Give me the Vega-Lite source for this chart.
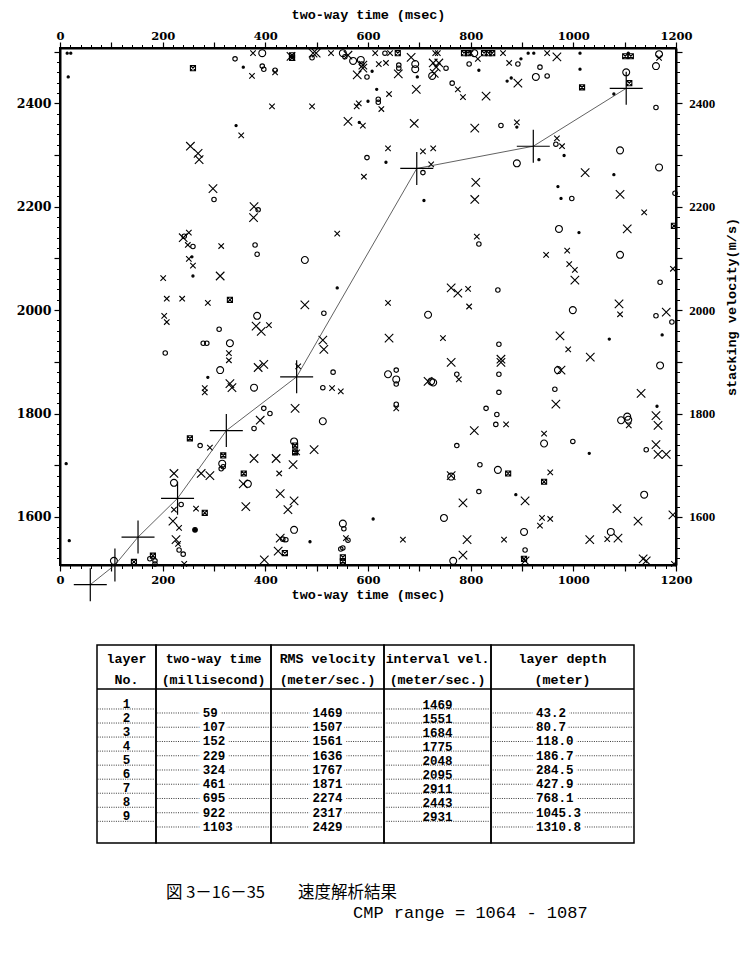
{
"$schema": "https://vega.github.io/schema/vega-lite/v6.json",
"background": "white",
"padding": {"left": 15, "top": 6, "right": 4, "bottom": 4},
"config": {"font": "Liberation Mono", "axis": {"domainColor": "black", "tickColor": "black", "labelColor": "black", "titleColor": "black", "grid": false}, "view": {"stroke": "black", "strokeWidth": 1.5}},
"datasets": {
"tbl": [
{"layer":1,"twt":59,"rms":1469,"int":1469,"depth":43.2},
{"layer":2,"twt":107,"rms":1507,"int":1551,"depth":80.7},
{"layer":3,"twt":152,"rms":1561,"int":1684,"depth":118.0},
{"layer":4,"twt":229,"rms":1636,"int":1775,"depth":186.7},
{"layer":5,"twt":324,"rms":1767,"int":2048,"depth":284.5},
{"layer":6,"twt":461,"rms":1871,"int":2095,"depth":427.9},
{"layer":7,"twt":695,"rms":2274,"int":2911,"depth":768.1},
{"layer":8,"twt":922,"rms":2317,"int":2443,"depth":1045.3},
{"layer":9,"twt":1103,"rms":2429,"int":2931,"depth":1310.8}
],
"pts": [
{"t":14,"v":2497,"s":"d"},{"t":21,"v":2497,"s":"d"},{"t":16,"v":2451,"s":"d"},{"t":12,"v":1703,"s":"d"},{"t":18,"v":1554,"s":"d"},
{"t":259,"v":2468,"s":"b"},{"t":341,"v":2486,"s":"o"},{"t":357,"v":2470,"s":"d"},{"t":376,"v":2497,"s":"x"},{"t":394,"v":2497,"s":"O"},{"t":374,"v":2453,"s":"x"},{"t":394,"v":2472,"s":"o"},{"t":397,"v":2466,"s":"o"},{"t":419,"v":2464,"s":"o"},{"t":419,"v":2460,"s":"x"},{"t":452,"v":2493,"s":"b"},{"t":452,"v":2488,"s":"b"},{"t":450,"v":2491,"s":"X"},{"t":499,"v":2497,"s":"X"},{"t":493,"v":2497,"s":"X"},{"t":491,"v":2488,"s":"o"},{"t":528,"v":2497,"s":"x"},{"t":551,"v":2497,"s":"O"},{"t":561,"v":2493,"s":"X"},{"t":555,"v":2490,"s":"o"},{"t":571,"v":2482,"s":"O"},{"t":586,"v":2484,"s":"O"},{"t":590,"v":2474,"s":"X"},{"t":588,"v":2476,"s":"o"},{"t":590,"v":2468,"s":"X"},{"t":579,"v":2455,"s":"X"},{"t":598,"v":2451,"s":"o"},{"t":608,"v":2462,"s":"d"},
{"t":614,"v":2497,"s":"x"},{"t":633,"v":2497,"s":"o"},{"t":643,"v":2497,"s":"x"},{"t":658,"v":2497,"s":"b"},{"t":684,"v":2489,"s":"X"},{"t":731,"v":2497,"s":"x"},{"t":621,"v":2476,"s":"x"},{"t":635,"v":2478,"s":"x"},
{"t":660,"v":2474,"s":"o"},{"t":660,"v":2468,"s":"o"},{"t":659,"v":2457,"s":"X"},{"t":692,"v":2476,"s":"O"},{"t":692,"v":2466,"s":"O"},{"t":696,"v":2451,"s":"d"},
{"t":727,"v":2478,"s":"X"},{"t":733,"v":2470,"s":"X"},{"t":738,"v":2478,"s":"X"},{"t":729,"v":2458,"s":"X"},{"t":725,"v":2453,"s":"O"},{"t":752,"v":2468,"s":"o"},{"t":736,"v":2497,"s":"x"},
{"t":797,"v":2476,"s":"o"},{"t":764,"v":2439,"s":"o"},{"t":775,"v":2427,"s":"x"},{"t":785,"v":2412,"s":"x"},
{"t":787,"v":2497,"s":"b"},{"t":795,"v":2497,"s":"b"},{"t":800,"v":2497,"s":"x"},{"t":807,"v":2497,"s":"O"},{"t":814,"v":2486,"s":"x"},{"t":826,"v":2497,"s":"b"},{"t":835,"v":2497,"s":"b"},{"t":842,"v":2497,"s":"b"},{"t":863,"v":2497,"s":"x"},
{"t":816,"v":2464,"s":"d"},{"t":875,"v":2478,"s":"x"},{"t":892,"v":2476,"s":"o"},{"t":898,"v":2486,"s":"d"},{"t":912,"v":2497,"s":"d"},{"t":923,"v":2497,"s":"d"},{"t":949,"v":2497,"s":"x"},{"t":968,"v":2490,"s":"X"},{"t":935,"v":2470,"s":"o"},
{"t":871,"v":2443,"s":"d"},{"t":879,"v":2449,"s":"d"},{"t":892,"v":2439,"s":"X"},{"t":927,"v":2451,"s":"O"},{"t":949,"v":2453,"s":"o"},
{"t":830,"v":2414,"s":"X"},{"t":808,"v":2352,"s":"X"},{"t":859,"v":2357,"s":"o"},{"t":890,"v":2363,"s":"x"},{"t":890,"v":2354,"s":"d"},
{"t":1013,"v":2497,"s":"d"},{"t":1013,"v":2466,"s":"d"},{"t":1017,"v":2431,"s":"b"},
{"t":1101,"v":2491,"s":"b"},{"t":1112,"v":2491,"s":"b"},{"t":1107,"v":2497,"s":"d"},{"t":1103,"v":2460,"s":"O"},{"t":1109,"v":2439,"s":"b"},{"t":1079,"v":2418,"s":"d"},
{"t":1167,"v":2495,"s":"O"},{"t":1167,"v":2488,"s":"x"},{"t":1161,"v":2472,"s":"O"},{"t":1161,"v":2392,"s":"o"},
{"t":694,"v":2427,"s":"X"},{"t":690,"v":2361,"s":"X"},
{"t":617,"v":2427,"s":"d"},{"t":641,"v":2418,"s":"x"},{"t":582,"v":2400,"s":"x"},{"t":578,"v":2394,"s":"x"},{"t":600,"v":2404,"s":"d"},{"t":620,"v":2408,"s":"o"},{"t":620,"v":2402,"s":"o"},{"t":626,"v":2389,"s":"x"},
{"t":413,"v":2394,"s":"x"},{"t":491,"v":2394,"s":"x"},{"t":561,"v":2365,"s":"X"},{"t":583,"v":2363,"s":"d"},{"t":590,"v":2357,"s":"x"},{"t":343,"v":2357,"s":"d"},{"t":353,"v":2338,"s":"x"},
{"t":598,"v":2295,"s":"o"},{"t":592,"v":2258,"s":"x"},
{"t":639,"v":2313,"s":"x"},{"t":635,"v":2286,"s":"d"},{"t":707,"v":2307,"s":"x"},{"t":727,"v":2313,"s":"x"},{"t":723,"v":2282,"s":"x"},{"t":707,"v":2266,"s":"o"},
{"t":890,"v":2284,"s":"O"},{"t":933,"v":2291,"s":"d"},{"t":968,"v":2332,"s":"x"},{"t":978,"v":2317,"s":"x"},{"t":966,"v":2321,"s":"o"},{"t":982,"v":2299,"s":"d"},
{"t":1091,"v":2309,"s":"O"},{"t":1023,"v":2266,"s":"X"},{"t":1079,"v":2262,"s":"d"},{"t":1167,"v":2276,"s":"O"},
{"t":810,"v":2247,"s":"X"},{"t":808,"v":2214,"s":"X"},{"t":709,"v":2212,"s":"d"},{"t":970,"v":2239,"s":"d"},{"t":976,"v":2216,"s":"d"},{"t":997,"v":2216,"s":"o"},
{"t":1091,"v":2224,"s":"X"},{"t":1138,"v":2189,"s":"x"},{"t":1198,"v":2226,"s":"o"},{"t":1196,"v":2163,"s":"b"},
{"t":972,"v":2157,"s":"O"},{"t":1011,"v":2150,"s":"d"},{"t":1105,"v":2157,"s":"X"},{"t":812,"v":2142,"s":"x"},{"t":816,"v":2128,"s":"o"},{"t":1091,"v":2107,"s":"O"},{"t":947,"v":2107,"s":"x"},
{"t":988,"v":2115,"s":"x"},{"t":992,"v":2089,"s":"x"},{"t":1003,"v":2078,"s":"x"},{"t":1003,"v":2058,"s":"X"},{"t":1194,"v":2080,"s":"x"},{"t":1169,"v":2054,"s":"o"},
{"t":762,"v":2043,"s":"X"},{"t":775,"v":2033,"s":"X"},{"t":795,"v":2041,"s":"x"},{"t":853,"v":2039,"s":"o"},
{"t":254,"v":2317,"s":"X"},{"t":269,"v":2303,"s":"X"},{"t":271,"v":2291,"s":"X"},{"t":298,"v":2235,"s":"X"},{"t":300,"v":2214,"s":"o"},
{"t":378,"v":2200,"s":"X"},{"t":377,"v":2179,"s":"X"},{"t":386,"v":2194,"s":"o"},{"t":380,"v":2126,"s":"o"},{"t":384,"v":2108,"s":"o"},{"t":477,"v":2097,"s":"O"},{"t":540,"v":2148,"s":"x"},{"t":540,"v":2043,"s":"d"},
{"t":251,"v":2150,"s":"x"},{"t":240,"v":2140,"s":"X"},{"t":242,"v":2143,"s":"o"},{"t":249,"v":2126,"s":"x"},{"t":259,"v":2123,"s":"o"},{"t":314,"v":2124,"s":"x"},{"t":257,"v":2103,"s":"d"},{"t":251,"v":2099,"s":"x"},{"t":259,"v":2086,"s":"x"},{"t":259,"v":2066,"s":"d"},{"t":312,"v":2066,"s":"X"},{"t":201,"v":2062,"s":"x"},{"t":208,"v":2022,"s":"x"},{"t":238,"v":2022,"s":"x"},{"t":331,"v":2020,"s":"b"},
{"t":203,"v":1989,"s":"x"},{"t":208,"v":1977,"s":"x"},{"t":288,"v":2014,"s":"x"},{"t":384,"v":1989,"s":"O"},{"t":382,"v":1969,"s":"X"},{"t":392,"v":1959,"s":"X"},{"t":407,"v":1971,"s":"x"},{"t":477,"v":2010,"s":"X"},{"t":514,"v":1994,"s":"o"},{"t":205,"v":1917,"s":"o"},{"t":310,"v":1963,"s":"o"},{"t":279,"v":1936,"s":"o"},{"t":286,"v":1936,"s":"o"},{"t":331,"v":1936,"s":"O"},{"t":329,"v":1917,"s":"x"},{"t":329,"v":1903,"s":"x"},{"t":312,"v":1884,"s":"O"},{"t":288,"v":1870,"s":"d"},{"t":282,"v":1849,"s":"x"},{"t":282,"v":1841,"s":"x"},{"t":331,"v":1858,"s":"X"},{"t":335,"v":1850,"s":"X"},{"t":378,"v":1850,"s":"O"},{"t":386,"v":1889,"s":"X"},{"t":397,"v":1895,"s":"X"},{"t":512,"v":1942,"s":"X"},{"t":514,"v":1924,"s":"X"},{"t":532,"v":1880,"s":"o"},{"t":512,"v":1850,"s":"o"},{"t":530,"v":1849,"s":"x"},{"t":547,"v":1843,"s":"x"},{"t":458,"v":1810,"s":"X"},{"t":464,"v":1891,"s":"x"},
{"t":512,"v":1785,"s":"O"},{"t":397,"v":1810,"s":"o"},{"t":409,"v":1800,"s":"o"},{"t":390,"v":1787,"s":"X"},{"t":378,"v":1771,"s":"o"},{"t":253,"v":1752,"s":"b"},{"t":273,"v":1738,"s":"o"},{"t":292,"v":1734,"s":"x"},
{"t":456,"v":1746,"s":"O"},{"t":458,"v":1738,"s":"b"},{"t":458,"v":1725,"s":"b"},{"t":462,"v":1725,"s":"x"},{"t":495,"v":1730,"s":"X"},{"t":421,"v":1713,"s":"X"},{"t":378,"v":1713,"s":"X"},{"t":454,"v":1701,"s":"X"},
{"t":318,"v":1719,"s":"b"},{"t":316,"v":1703,"s":"O"},{"t":318,"v":1697,"s":"o"},{"t":314,"v":1693,"s":"o"},{"t":275,"v":1684,"s":"X"},{"t":292,"v":1680,"s":"X"},{"t":358,"v":1684,"s":"b"},{"t":357,"v":1664,"s":"X"},{"t":366,"v":1664,"s":"O"},{"t":427,"v":1684,"s":"x"},{"t":222,"v":1684,"s":"X"},{"t":222,"v":1666,"s":"O"},{"t":429,"v":1645,"s":"X"},{"t":362,"v":1620,"s":"X"},{"t":456,"v":1631,"s":"X"},{"t":444,"v":1614,"s":"X"},{"t":236,"v":1624,"s":"o"},{"t":265,"v":1616,"s":"x"},{"t":282,"v":1608,"s":"b"},{"t":222,"v":1614,"s":"x"},{"t":220,"v":1592,"s":"X"},{"t":232,"v":1579,"s":"x"},{"t":263,"v":1575,"s":"D"},
{"t":226,"v":1556,"s":"X"},{"t":230,"v":1548,"s":"x"},{"t":232,"v":1536,"s":"o"},{"t":240,"v":1528,"s":"o"},
{"t":429,"v":1559,"s":"X"},{"t":434,"v":1557,"s":"o"},{"t":440,"v":1556,"s":"o"},{"t":425,"v":1534,"s":"X"},{"t":438,"v":1530,"s":"b"},{"t":456,"v":1575,"s":"O"},{"t":398,"v":1517,"s":"X"},{"t":487,"v":1552,"s":"d"},
{"t":551,"v":1587,"s":"O"},{"t":553,"v":1577,"s":"o"},{"t":561,"v":1555,"s":"o"},{"t":557,"v":1559,"s":"x"},{"t":547,"v":1538,"s":"o"},{"t":551,"v":1540,"s":"o"},{"t":551,"v":1522,"s":"b"},{"t":551,"v":1514,"s":"b"},
{"t":105,"v":1515,"s":"O"},{"t":144,"v":1513,"s":"b"},{"t":181,"v":1525,"s":"b"},{"t":175,"v":1519,"s":"o"},{"t":185,"v":1515,"s":"o"},{"t":185,"v":1509,"s":"o"},{"t":242,"v":1509,"s":"x"},
{"t":610,"v":1596,"s":"d"},{"t":668,"v":1556,"s":"x"},{"t":762,"v":1678,"s":"O"},{"t":785,"v":1627,"s":"X"},{"t":748,"v":1598,"s":"O"},{"t":793,"v":1556,"s":"X"},{"t":785,"v":1526,"s":"X"},{"t":766,"v":1515,"s":"O"},
{"t":816,"v":1649,"s":"o"},{"t":888,"v":1643,"s":"d"},{"t":906,"v":1631,"s":"X"},{"t":943,"v":1668,"s":"b"},{"t":939,"v":1598,"s":"x"},{"t":955,"v":1596,"s":"x"},{"t":935,"v":1583,"s":"x"},{"t":904,"v":1571,"s":"O"},{"t":865,"v":1556,"s":"x"},{"t":906,"v":1536,"s":"o"},{"t":904,"v":1519,"s":"b"},{"t":906,"v":1515,"s":"X"},
{"t":1138,"v":1643,"s":"O"},{"t":1085,"v":1616,"s":"X"},{"t":1126,"v":1592,"s":"X"},{"t":1194,"v":1604,"s":"X"},{"t":1073,"v":1571,"s":"O"},{"t":1066,"v":1557,"s":"x"},{"t":1087,"v":1559,"s":"X"},{"t":1032,"v":1556,"s":"X"},{"t":1136,"v":1519,"s":"X"},{"t":1142,"v":1515,"s":"X"},{"t":1196,"v":1509,"s":"x"},
{"t":853,"v":1691,"s":"O"},{"t":873,"v":1684,"s":"b"},{"t":955,"v":1686,"s":"x"},
{"t":639,"v":2014,"s":"x"},{"t":641,"v":1946,"s":"X"},{"t":639,"v":1876,"s":"O"},{"t":655,"v":1884,"s":"o"},{"t":655,"v":1866,"s":"O"},{"t":655,"v":1857,"s":"o"},{"t":655,"v":1818,"s":"o"},{"t":655,"v":1810,"s":"x"},
{"t":717,"v":1991,"s":"O"},{"t":797,"v":2007,"s":"x"},{"t":746,"v":1946,"s":"x"},{"t":762,"v":1899,"s":"X"},{"t":773,"v":1876,"s":"o"},{"t":777,"v":1866,"s":"x"},{"t":717,"v":1862,"s":"X"},{"t":727,"v":1860,"s":"O"},{"t":723,"v":1862,"s":"O"},
{"t":830,"v":1810,"s":"o"},{"t":807,"v":1767,"s":"X"},{"t":773,"v":1738,"s":"o"},{"t":818,"v":1701,"s":"o"},{"t":762,"v":1680,"s":"X"},
{"t":855,"v":1934,"s":"o"},{"t":855,"v":1876,"s":"o"},{"t":855,"v":1841,"s":"o"},{"t":851,"v":1798,"s":"o"},{"t":849,"v":1779,"s":"o"},{"t":869,"v":1779,"s":"x"},{"t":859,"v":1905,"s":"X"},{"t":859,"v":1899,"s":"X"},
{"t":999,"v":2000,"s":"O"},{"t":1089,"v":2012,"s":"X"},{"t":1091,"v":1992,"s":"x"},{"t":1161,"v":1989,"s":"o"},{"t":1181,"v":1996,"s":"X"},{"t":1192,"v":1977,"s":"o"},{"t":1173,"v":1952,"s":"d"},{"t":974,"v":1950,"s":"X"},{"t":990,"v":1924,"s":"x"},{"t":1033,"v":1909,"s":"X"},{"t":1070,"v":1944,"s":"d"},{"t":1169,"v":1893,"s":"O"},{"t":970,"v":1884,"s":"O"},{"t":976,"v":1884,"s":"X"},{"t":964,"v":1847,"s":"o"},{"t":966,"v":1818,"s":"X"},{"t":1132,"v":1839,"s":"X"},{"t":1163,"v":1814,"s":"d"},{"t":1093,"v":1787,"s":"O"},{"t":1105,"v":1794,"s":"O"},{"t":1107,"v":1788,"s":"O"},{"t":1108,"v":1777,"s":"x"},{"t":1161,"v":1796,"s":"X"},{"t":1165,"v":1777,"s":"X"},{"t":943,"v":1761,"s":"x"},{"t":943,"v":1742,"s":"O"},{"t":999,"v":1746,"s":"o"},{"t":1031,"v":1723,"s":"d"},{"t":1142,"v":1730,"s":"o"},{"t":1161,"v":1740,"s":"X"},{"t":1165,"v":1721,"s":"X"},{"t":1181,"v":1721,"s":"X"}
]
},
"vconcat": [
{
"width": 616, "height": 517,
"view": {"stroke": "black", "strokeWidth": 2},
"resolve": {"axis": {"x": "independent", "y": "independent"}},
"layer": [
{"data": {"name": "pts"},
 "mark": {"type": "point", "color": "black", "strokeWidth": 1.1, "opacity": 1},
 "encoding": {
  "x": {"field": "t", "type": "quantitative", "scale": {"domain": [0, 1200], "nice": false, "zero": false},
   "axis": {"orient": "bottom", "values": [0,100,200,300,400,500,600,700,800,900,1000,1100,1200], "format": "d", "labelExpr": "datum.value % 200 === 0 ? datum.label : ''", "tickSize": 6, "tickWidth": 1.2, "domainWidth": 2, "labelFont": "DejaVu Serif", "labelFontWeight": "bold", "labelFontSize": 11.5, "labelPadding": 3.6, "labelOverlap": false, "labelFlush": false, "title": "two-way time (msec)", "titleFont": "Liberation Mono", "titleFontWeight": "bold", "titleFontSize": 13.5, "titlePadding": 1}},
  "y": {"field": "v", "type": "quantitative", "scale": {"domain": [1507, 2507], "nice": false, "zero": false},
   "axis": {"orient": "left", "values": [1600,1700,1800,1900,2000,2100,2200,2300,2400,2500], "format": "d", "labelExpr": "datum.value % 200 === 0 ? datum.label : ''", "tickSize": 6, "tickWidth": 1.2, "domainWidth": 2, "labelFont": "DejaVu Serif", "labelFontWeight": "bold", "labelFontSize": 12.5, "labelPadding": 3, "labelOverlap": false, "labelFlush": false, "title": null}},
  "shape": {"field": "s", "type": "nominal", "legend": null, "scale": {"domain": ["d","D","x","X","o","O","b"], "range": ["circle","circle","M-1,-1L1,1M1,-1L-1,1","M-1,-1L1,1M1,-1L-1,1","circle","circle","M-1,-1H1V1H-1ZM-1,-1L1,1M1,-1L-1,1"]}},
  "size": {"field": "s", "type": "nominal", "legend": null, "scale": {"type": "ordinal", "domain": ["d","D","x","X","o","O","b"], "range": [5, 22, 30, 72, 20, 48, 26]}},
  "fill": {"condition": {"test": "datum.s === 'd' || datum.s === 'D'", "value": "black"}, "value": "transparent"}
 }},
{"data": {"name": "tbl"},
 "mark": {"type": "line", "color": "#3a3a3a", "strokeWidth": 0.8},
 "encoding": {
  "x": {"field": "twt", "type": "quantitative", "scale": {"domain": [0, 1200], "nice": false, "zero": false},
   "axis": {"orient": "bottom", "values": [0,20,40,60,80,100,120,140,160,180,200,220,240,260,280,300,320,340,360,380,400,420,440,460,480,500,520,540,560,580,600,620,640,660,680,700,720,740,760,780,800,820,840,860,880,900,920,940,960,980,1000,1020,1040,1060,1080,1100,1120,1140,1160,1180,1200], "labels": false, "domain": false, "tickSize": 3.5, "tickWidth": 1, "title": null}},
  "y": {"field": "rms", "type": "quantitative", "scale": {"domain": [1507, 2507], "nice": false, "zero": false},
   "axis": {"orient": "left", "values": [1520,1540,1560,1580,1600,1620,1640,1660,1680,1700,1720,1740,1760,1780,1800,1820,1840,1860,1880,1900,1920,1940,1960,1980,2000,2020,2040,2060,2080,2100,2120,2140,2160,2180,2200,2220,2240,2260,2280,2300,2320,2340,2360,2380,2400,2420,2440,2460,2480,2500], "labels": false, "domain": false, "tickSize": 3.5, "tickWidth": 1, "title": null}}
 }},
{"data": {"name": "tbl"},
 "mark": {"type": "point", "shape": "M-1,0H1M0,-1V1", "size": 1089, "color": "black", "strokeWidth": 1.2, "opacity": 1},
 "encoding": {
  "x": {"field": "twt", "type": "quantitative", "scale": {"domain": [0, 1200], "nice": false, "zero": false},
   "axis": {"orient": "top", "values": [0,100,200,300,400,500,600,700,800,900,1000,1100,1200], "format": "d", "labelExpr": "datum.value % 200 === 0 ? datum.label : ''", "tickSize": 6, "tickWidth": 1.2, "domainWidth": 2, "labelFont": "DejaVu Serif", "labelFontWeight": "bold", "labelFontSize": 11.5, "labelPadding": 1, "labelOverlap": false, "labelFlush": false, "title": "two-way time (msec)", "titleFont": "Liberation Mono", "titleFontWeight": "bold", "titleFontSize": 13.5, "titlePadding": 9}},
  "y": {"field": "rms", "type": "quantitative", "scale": {"domain": [1507, 2507], "nice": false, "zero": false},
   "axis": {"orient": "right", "values": [1600,1700,1800,1900,2000,2100,2200,2300,2400,2500], "format": "d", "labelExpr": "datum.value % 200 === 0 ? datum.label : ''", "tickSize": 6, "tickWidth": 1.2, "domainWidth": 2, "labelFont": "Liberation Serif", "labelFontWeight": "bold", "labelFontSize": 13, "labelPadding": 6.7, "labelOverlap": false, "labelFlush": false, "title": "stacking velocity(m/s)", "titleFont": "Liberation Mono", "titleFontWeight": "bold", "titleFontSize": 13.5, "titleAngle": 270, "titleBaseline": "top", "titlePadding": 10}}
 }},
{"data": {"name": "tbl"},
 "mark": {"type": "point", "opacity": 0},
 "encoding": {
  "x": {"field": "twt", "type": "quantitative", "scale": {"domain": [0, 1200], "nice": false, "zero": false},
   "axis": {"orient": "top", "values": [0,20,40,60,80,100,120,140,160,180,200,220,240,260,280,300,320,340,360,380,400,420,440,460,480,500,520,540,560,580,600,620,640,660,680,700,720,740,760,780,800,820,840,860,880,900,920,940,960,980,1000,1020,1040,1060,1080,1100,1120,1140,1160,1180,1200], "labels": false, "domain": false, "tickSize": 3.5, "tickWidth": 1, "title": null}},
  "y": {"field": "rms", "type": "quantitative", "scale": {"domain": [1507, 2507], "nice": false, "zero": false},
   "axis": {"orient": "right", "values": [1520,1540,1560,1580,1600,1620,1640,1660,1680,1700,1720,1740,1760,1780,1800,1820,1840,1860,1880,1900,1920,1940,1960,1980,2000,2020,2040,2060,2080,2100,2120,2140,2160,2180,2200,2220,2240,2260,2280,2300,2320,2340,2360,2380,2400,2420,2440,2460,2480,2500], "labels": false, "domain": false, "tickSize": 3.5, "tickWidth": 1, "title": null}}
 }}
]
},
{
"vconcat": [
{
"hconcat": [
{"width": 37, "height": 10, "data": {"values": [{"a": 0}]}, "mark": {"type": "point", "opacity": 0}, "view": {"stroke": null}},
{"width": 59, "height": 198, "data": {"name": "tbl"},
 "resolve": {"scale": {"y": "independent"}},
 "layer": [
  {"data": {"values": [{"h": "layer\nNo."}]},
   "mark": {"type": "text", "lineBreak": "\n", "lineHeight": 21, "font": "Liberation Mono", "fontWeight": "bold", "fontSize": 13.3, "align": "center", "baseline": "middle", "color": "black"},
   "encoding": {"text": {"field": "h"}, "x": {"datum": 0.5, "type": "quantitative", "scale": {"domain": [0, 1]}, "axis": null}, "y": {"datum": 0.9308, "type": "quantitative", "scale": {"domain": [0, 1], "nice": false, "zero": false}, "axis": null}}},
  {"data": {"values": [{"h": 0}]},
   "mark": {"type": "rule", "color": "black", "strokeWidth": 1.5},
   "encoding": {"y": {"datum": 0.7778, "type": "quantitative", "scale": {"domain": [0, 1], "nice": false, "zero": false}, "axis": null}}},
  {"mark": {"type": "rule", "strokeDash": [1, 1.3], "strokeWidth": 0.9, "color": "#222"},
   "encoding": {"y": {"field": "layer", "type": "quantitative", "scale": {"domain": [-3.558, 10.544], "reverse": true, "nice": false, "zero": false}, "axis": null}}},
  {"mark": {"type": "text", "font": "Liberation Mono", "fontWeight": "bold", "fontSize": 12.5, "align": "center", "baseline": "middle", "color": "black"},
   "encoding": {"text": {"field": "layer", "type": "quantitative", "format": "d"}, "x": {"datum": 0.5, "type": "quantitative", "scale": {"domain": [0, 1]}, "axis": null}, "y": {"field": "layer", "type": "quantitative", "scale": {"domain": [-3.202, 10.9], "reverse": true, "nice": false, "zero": false}, "axis": null}}}
 ]},
{"width": 115, "height": 198, "data": {"name": "tbl"},
 "resolve": {"scale": {"y": "independent"}},
 "layer": [
  {"data": {"values": [{"h": "two-way time\n(millisecond)"}]},
   "mark": {"type": "text", "lineBreak": "\n", "lineHeight": 21, "font": "Liberation Mono", "fontWeight": "bold", "fontSize": 13.3, "align": "center", "baseline": "middle", "color": "black"},
   "encoding": {"text": {"field": "h"}, "x": {"datum": 0.5, "type": "quantitative", "scale": {"domain": [0, 1]}, "axis": null}, "y": {"datum": 0.9308, "type": "quantitative", "scale": {"domain": [0, 1], "nice": false, "zero": false}, "axis": null}}},
  {"data": {"values": [{"h": 0}]},
   "mark": {"type": "rule", "color": "black", "strokeWidth": 1.5},
   "encoding": {"y": {"datum": 0.7778, "type": "quantitative", "scale": {"domain": [0, 1], "nice": false, "zero": false}, "axis": null}}},
  {"mark": {"type": "rule", "strokeDash": [1, 1.3], "strokeWidth": 0.9, "color": "#222"},
   "encoding": {"y": {"field": "layer", "type": "quantitative", "scale": {"domain": [-3.772, 10.123], "reverse": true, "nice": false, "zero": false}, "axis": null}}},
  {"mark": {"type": "text", "font": "Liberation Mono", "fontWeight": "bold", "fontSize": 12.5, "align": "left", "baseline": "middle", "fill": "white", "stroke": "white", "strokeWidth": 8},
   "encoding": {"text": {"field": "twt", "type": "quantitative", "format": "d"}, "x": {"datum": 0.406, "type": "quantitative", "scale": {"domain": [0, 1]}, "axis": null}, "y": {"field": "layer", "type": "quantitative", "scale": {"domain": [-3.772, 10.123], "reverse": true, "nice": false, "zero": false}, "axis": null}}},
  {"mark": {"type": "text", "font": "Liberation Mono", "fontWeight": "bold", "fontSize": 12.5, "align": "left", "baseline": "middle", "color": "black"},
   "encoding": {"text": {"field": "twt", "type": "quantitative", "format": "d"}, "x": {"datum": 0.406, "type": "quantitative", "scale": {"domain": [0, 1]}, "axis": null}, "y": {"field": "layer", "type": "quantitative", "scale": {"domain": [-3.772, 10.123], "reverse": true, "nice": false, "zero": false}, "axis": null}}}
 ]},
{"width": 113, "height": 198, "data": {"name": "tbl"},
 "resolve": {"scale": {"y": "independent"}},
 "layer": [
  {"data": {"values": [{"h": "RMS velocity\n(meter/sec.)"}]},
   "mark": {"type": "text", "lineBreak": "\n", "lineHeight": 21, "font": "Liberation Mono", "fontWeight": "bold", "fontSize": 13.3, "align": "center", "baseline": "middle", "color": "black"},
   "encoding": {"text": {"field": "h"}, "x": {"datum": 0.5, "type": "quantitative", "scale": {"domain": [0, 1]}, "axis": null}, "y": {"datum": 0.9308, "type": "quantitative", "scale": {"domain": [0, 1], "nice": false, "zero": false}, "axis": null}}},
  {"data": {"values": [{"h": 0}]},
   "mark": {"type": "rule", "color": "black", "strokeWidth": 1.5},
   "encoding": {"y": {"datum": 0.7778, "type": "quantitative", "scale": {"domain": [0, 1], "nice": false, "zero": false}, "axis": null}}},
  {"mark": {"type": "rule", "strokeDash": [1, 1.3], "strokeWidth": 0.9, "color": "#222"},
   "encoding": {"y": {"field": "layer", "type": "quantitative", "scale": {"domain": [-3.772, 10.123], "reverse": true, "nice": false, "zero": false}, "axis": null}}},
  {"mark": {"type": "text", "font": "Liberation Mono", "fontWeight": "bold", "fontSize": 12.5, "align": "center", "baseline": "middle", "fill": "white", "stroke": "white", "strokeWidth": 8},
   "encoding": {"text": {"field": "rms", "type": "quantitative", "format": "d"}, "x": {"datum": 0.5, "type": "quantitative", "scale": {"domain": [0, 1]}, "axis": null}, "y": {"field": "layer", "type": "quantitative", "scale": {"domain": [-3.772, 10.123], "reverse": true, "nice": false, "zero": false}, "axis": null}}},
  {"mark": {"type": "text", "font": "Liberation Mono", "fontWeight": "bold", "fontSize": 12.5, "align": "center", "baseline": "middle", "color": "black"},
   "encoding": {"text": {"field": "rms", "type": "quantitative", "format": "d"}, "x": {"datum": 0.5, "type": "quantitative", "scale": {"domain": [0, 1]}, "axis": null}, "y": {"field": "layer", "type": "quantitative", "scale": {"domain": [-3.772, 10.123], "reverse": true, "nice": false, "zero": false}, "axis": null}}}
 ]},
{"width": 107, "height": 198, "data": {"name": "tbl"},
 "resolve": {"scale": {"y": "independent"}},
 "layer": [
  {"data": {"values": [{"h": "interval vel.\n(meter/sec.)"}]},
   "mark": {"type": "text", "lineBreak": "\n", "lineHeight": 21, "font": "Liberation Mono", "fontWeight": "bold", "fontSize": 13.3, "align": "center", "baseline": "middle", "color": "black"},
   "encoding": {"text": {"field": "h"}, "x": {"datum": 0.5, "type": "quantitative", "scale": {"domain": [0, 1]}, "axis": null}, "y": {"datum": 0.9308, "type": "quantitative", "scale": {"domain": [0, 1], "nice": false, "zero": false}, "axis": null}}},
  {"data": {"values": [{"h": 0}]},
   "mark": {"type": "rule", "color": "black", "strokeWidth": 1.5},
   "encoding": {"y": {"datum": 0.7778, "type": "quantitative", "scale": {"domain": [0, 1], "nice": false, "zero": false}, "axis": null}}},
  {"mark": {"type": "rule", "strokeDash": [1, 1.3], "strokeWidth": 0.9, "color": "#222"},
   "encoding": {"y": {"field": "layer", "type": "quantitative", "scale": {"domain": [-3.558, 10.544], "reverse": true, "nice": false, "zero": false}, "axis": null}}},
  {"mark": {"type": "text", "font": "Liberation Mono", "fontWeight": "bold", "fontSize": 12.5, "align": "center", "baseline": "middle", "color": "black"},
   "encoding": {"text": {"field": "int", "type": "quantitative", "format": "d"}, "x": {"datum": 0.5, "type": "quantitative", "scale": {"domain": [0, 1]}, "axis": null}, "y": {"field": "layer", "type": "quantitative", "scale": {"domain": [-3.252, 10.85], "reverse": true, "nice": false, "zero": false}, "axis": null}}}
 ]},
{"width": 143, "height": 198, "data": {"name": "tbl"},
 "resolve": {"scale": {"y": "independent"}},
 "layer": [
  {"data": {"values": [{"h": "layer depth\n(meter)"}]},
   "mark": {"type": "text", "lineBreak": "\n", "lineHeight": 21, "font": "Liberation Mono", "fontWeight": "bold", "fontSize": 13.3, "align": "center", "baseline": "middle", "color": "black"},
   "encoding": {"text": {"field": "h"}, "x": {"datum": 0.5, "type": "quantitative", "scale": {"domain": [0, 1]}, "axis": null}, "y": {"datum": 0.9308, "type": "quantitative", "scale": {"domain": [0, 1], "nice": false, "zero": false}, "axis": null}}},
  {"data": {"values": [{"h": 0}]},
   "mark": {"type": "rule", "color": "black", "strokeWidth": 1.5},
   "encoding": {"y": {"datum": 0.7778, "type": "quantitative", "scale": {"domain": [0, 1], "nice": false, "zero": false}, "axis": null}}},
  {"mark": {"type": "rule", "strokeDash": [1, 1.3], "strokeWidth": 0.9, "color": "#222"},
   "encoding": {"y": {"field": "layer", "type": "quantitative", "scale": {"domain": [-3.772, 10.123], "reverse": true, "nice": false, "zero": false}, "axis": null}}},
  {"mark": {"type": "text", "font": "Liberation Mono", "fontWeight": "bold", "fontSize": 12.5, "align": "left", "baseline": "middle", "fill": "white", "stroke": "white", "strokeWidth": 8},
   "encoding": {"text": {"field": "depth", "type": "quantitative", "format": ".1f"}, "x": {"datum": 0.315, "type": "quantitative", "scale": {"domain": [0, 1]}, "axis": null}, "y": {"field": "layer", "type": "quantitative", "scale": {"domain": [-3.772, 10.123], "reverse": true, "nice": false, "zero": false}, "axis": null}}},
  {"mark": {"type": "text", "font": "Liberation Mono", "fontWeight": "bold", "fontSize": 12.5, "align": "left", "baseline": "middle", "color": "black"},
   "encoding": {"text": {"field": "depth", "type": "quantitative", "format": ".1f"}, "x": {"datum": 0.315, "type": "quantitative", "scale": {"domain": [0, 1]}, "axis": null}, "y": {"field": "layer", "type": "quantitative", "scale": {"domain": [-3.772, 10.123], "reverse": true, "nice": false, "zero": false}, "axis": null}}}
 ]}
],
"spacing": 0, "bounds": "flush"
},
{
"width": 500, "height": 50,
"view": {"stroke": null},
"layer": [
 {"data": {"values": [{"line": 1, "txt": "図 3－16－35　　速度解析結果"}]},
  "mark": {"type": "text", "font": "Noto Sans CJK JP", "fontSize": 16.5, "align": "left", "baseline": "middle", "color": "black"},
  "encoding": {"text": {"field": "txt"},
   "x": {"field": "line", "type": "quantitative", "scale": {"domain": [0.4332, 3.107], "nice": false, "zero": false}, "axis": null},
   "y": {"field": "line", "type": "quantitative", "scale": {"domain": [-0.1, 2.4], "reverse": true, "nice": false, "zero": false}, "axis": null}}},
 {"data": {"values": [{"line": 2, "txt": "CMP range = 1064 - 1087"}]},
  "mark": {"type": "text", "font": "Liberation Mono", "fontSize": 17, "align": "left", "baseline": "middle", "color": "black"},
  "encoding": {"text": {"field": "txt"},
   "x": {"field": "line", "type": "quantitative", "scale": {"domain": [0.4332, 3.107], "nice": false, "zero": false}, "axis": null},
   "y": {"field": "line", "type": "quantitative", "scale": {"domain": [-0.1, 2.4], "reverse": true, "nice": false, "zero": false}, "axis": null}}}
]
}
],
"spacing": 27
}
],
"spacing": 39
}
